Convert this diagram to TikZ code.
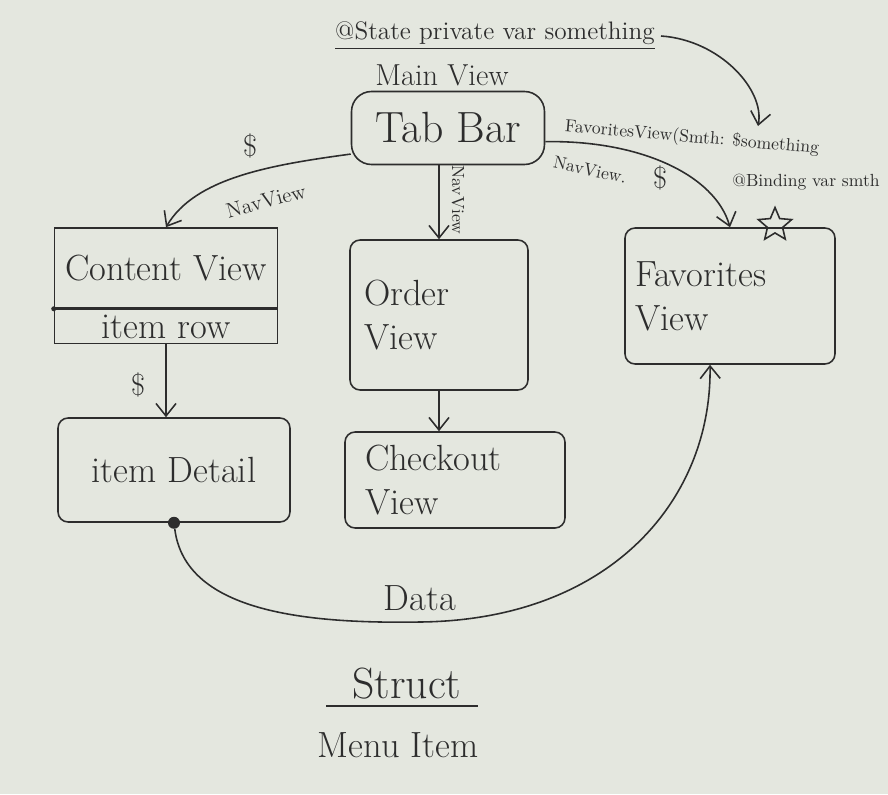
\documentclass[tikz,border=0pt]{standalone}
\usepackage{amsmath}
\usetikzlibrary{arrows.meta,shapes.geometric}
\definecolor{paper}{RGB}{228,231,223}
\definecolor{ink}{RGB}{45,45,45}

\begin{document}
\begin{tikzpicture}[x=0.02cm, y=-0.02cm]
  \tikzstyle{view} = [draw=ink, text=ink, line width=0.9pt, rounded corners=0.2cm, font=\huge]
  \tikzstyle{note} = [text=ink]
  \tikzstyle{dot} = [circle, fill=ink, inner sep=0pt]
  \tikzstyle{arrow} = [-{Straight Barb[length=2.5mm, width=4mm]}, draw=ink, line width=0.9pt]

  \fill[paper] (0,0) rectangle (888,794);
  \useasboundingbox (0,0) rectangle (888,794);

  \node[view, rounded corners=0.4cm, minimum width=3.86cm, minimum height=1.46cm, font=\Huge] (tabbar) at (448,128) {Tab Bar};
  \node[view, rounded corners=0pt, minimum width=4.46cm, minimum height=1.6cm] (content) at (166,268) {Content View};
  \node[view, rounded corners=0pt, minimum width=4.46cm, minimum height=0.68cm, inner sep=0pt, anchor=north] (itemrow) at (content.south) {item row};
  \node[view, minimum width=4.64cm, minimum height=2.08cm] (detail) at (174,470) {item Detail};
  \node[view, minimum width=3.56cm, minimum height=3cm, text width=3cm, align=left] (order) at (439,315) {Order\\View};
  \node[view, minimum width=4.4cm, minimum height=1.92cm, text width=3.6cm, align=left] (checkout) at (455,480) {Checkout\\View};
  \node[view, minimum width=4.2cm, minimum height=2.72cm, text width=3.8cm, align=left] (favorites) at (730,296) {Favorites\\View};

  \node[dot, minimum size=0.24cm] (datadot) at (detail.south) {};
  \node[dot, minimum size=0.1cm] (rowdot) at (content.south west) {};

  \node[note, font=\Large] (state) at (495,36) {\underline{@State private var something}};
  \node[note, font=\LARGE] (mainview) at (442,75) {Main View};
  \node[note, rotate=-5] (favcall) at (692,138) {FavoritesView(Smth: \$something};
  \coordinate (smth) at (758,126);
  \node[note, rotate=-12] (navfav) at (590,170) {NavView.};
  \node[note, font=\LARGE] (dollarfav) at (660,178) {\$};
  \node[note] (binding) at (806,182) {@Binding var smth};
  \node[draw=ink, star, star points=5, star point ratio=2.2, minimum size=0.7cm, inner sep=0pt, line width=0.9pt] (star) at (775,225) {};
  \node[note, font=\LARGE] (dollarcontent) at (250,146) {\$};
  \node[note, font=\large, rotate=15] (navcontent) at (266,201) {NavView};
  \node[note, rotate=-90] (navorder) at (458,200) {NavView};
  \node[note, font=\LARGE] (dollardetail) at (138,385) {\$};
  \node[note, font=\huge] (data) at (420,598) {Data};
  \node[note, font=\Huge] (struct) at (407,684) {Struct};
  \node[note, font=\huge] (menuitem) at (398,745) {Menu Item};

  \draw[arrow] (state.east) .. controls (720,40) and (765,90) .. (smth);
  \draw[arrow] (tabbar.195) .. controls (270,165) and (195,178) .. (content.north);
  \draw[arrow] (order.north |- tabbar.south) -- (order.north);
  \draw[arrow] (tabbar.-8) .. controls (640,140) and (715,175) .. (favorites.north);
  \draw[arrow] (itemrow.south) -- (itemrow.south |- detail.north);
  \draw[arrow] (order.south) -- (order.south |- checkout.north);
  \draw[arrow] (datadot) .. controls (185,610) and (300,624) .. (420,622)
    .. controls (610,620) and (712,500) .. ([xshift=-0.4cm]favorites.south);

  \draw[ink, line width=0.9pt] ([xshift=-0.4cm]struct.south west) -- ([xshift=0.2cm]struct.south east);
\end{tikzpicture}
\end{document}
